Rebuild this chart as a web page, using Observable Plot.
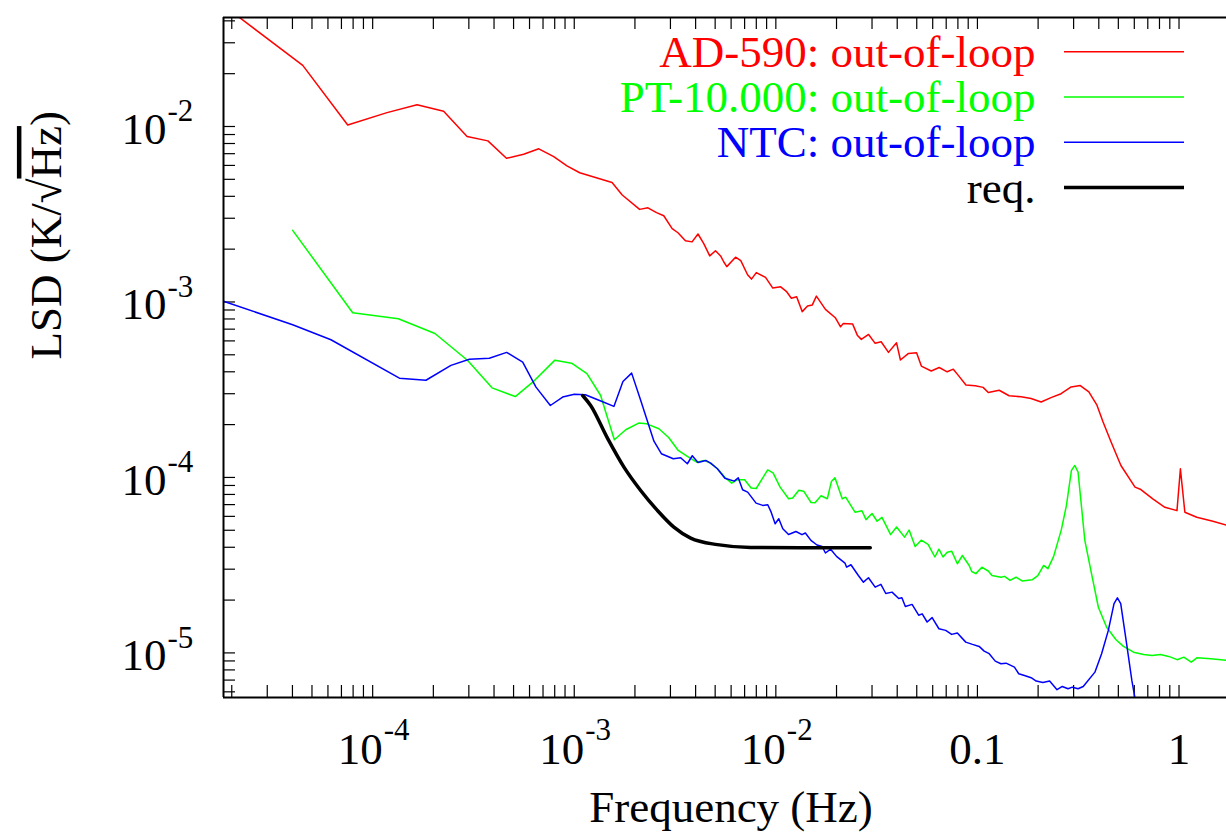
<!DOCTYPE html>
<html><head><meta charset="utf-8">
<script src="https://cdn.jsdelivr.net/npm/d3@7"></script>
<script src="https://cdn.jsdelivr.net/npm/@observablehq/plot@0.6"></script>
<style>
body{margin:0;background:#fff;}
#chart svg{display:block;}
</style></head><body><div id="chart"></div>
<script>
// ---- data: [frequency (Hz), LSD (K/sqrt(Hz))] ----
const redData = [[1.82e-5,0.049],[4.5e-5,0.0223],[7.52e-5,0.0102],[1.178e-4,0.0120],[1.66e-4,0.0133],[2.25e-4,0.0122],[2.94e-4,0.00877],[3.73e-4,0.00828],[4.61e-4,0.00659],[5.61e-4,0.00695],[6.67e-4,0.00746],[7.91e-4,0.00674],[9.2e-4,0.00596],[1.064e-3,0.00545],[1.54e-3,0.00479],[1.73e-3,0.00407],[2.11e-3,0.00337],[2.32e-3,0.00344],[2.56e-3,0.00323],[2.78e-3,0.0031],[3.06e-3,0.00262],[3.27e-3,0.00248],[3.56e-3,0.00223],[3.84e-3,0.0022],[4.11e-3,0.00244],[4.39e-3,0.00215],[4.7e-3,0.00183],[5.02e-3,0.00196],[5.32e-3,0.00183],[5.52e-3,0.00169],[5.71e-3,1.59e-3],[6.31e-3,1.80e-3],[6.70e-3,1.72e-3],[7.24e-3,1.43e-3],[7.57e-3,1.35e-3],[8.0e-3,1.47e-3],[8.89e-3,1.38e-3],[9.66e-3,1.20e-3],[1.057e-2,1.22e-3],[1.127e-2,1.15e-3],[1.194e-2,1.05e-3],[1.268e-2,1.07e-3],[1.352e-2,8.81e-4],[1.436e-2,9.49e-4],[1.517e-2,9.62e-4],[1.589e-2,1.08e-3],[1.762e-2,9.08e-4],[1.972e-2,8.13e-4],[2.094e-2,7.22e-4],[2.163e-2,7.55e-4],[2.405e-2,7.48e-4],[2.535e-2,6.47e-4],[2.655e-2,6.12e-4],[2.884e-2,6.53e-4],[3.11e-2,5.81e-4],[3.33e-2,5.93e-4],[3.62e-2,5.16e-4],[3.97e-2,5.85e-4],[4.15e-2,4.67e-4],[4.55e-2,5.09e-4],[4.99e-2,5.13e-4],[5.27e-2,4.31e-4],[5.90e-2,4.04e-4],[6.46e-2,4.23e-4],[7.08e-2,4.0e-4],[7.59e-2,4.14e-4],[8.02e-2,3.83e-4],[8.77e-2,3.36e-4],[9.75e-2,3.33e-4],[0.1067,3.26e-4],[0.1132,3.05e-4],[0.1282,3.14e-4],[0.1436,2.92e-4],[0.1648,2.88e-4],[0.1845,2.82e-4],[0.207,2.69e-4],[0.2317,2.85e-4],[0.26,3.0e-4],[0.2917,3.28e-4],[0.3236,3.34e-4],[0.357,3.07e-4],[0.3917,2.58e-4],[0.42,2.07e-4],[0.4603,1.59e-4],[0.515,1.17e-4],[0.605,8.81e-5],[0.647,8.53e-5],[0.741,7.55e-5],[0.851,6.76e-5],[0.977,6.47e-5],[1.016,1.12e-4],[1.069,6.33e-5],[1.225,5.93e-5],[1.472,5.62e-5],[1.75,5.32e-5]];

const greenData = [[4.01e-5,2.56e-3],[7.96e-5,8.68e-4],[1.341e-4,8.02e-4],[2.037e-4,6.61e-4],[2.96e-4,4.64e-4],[3.91e-4,3.24e-4],[5.10e-4,2.89e-4],[6.22e-4,3.49e-4],[8.02e-4,4.66e-4],[9.7e-4,4.48e-4],[1.156e-3,3.91e-4],[1.352e-3,2.93e-4],[1.432e-3,2.36e-4],[1.581e-3,1.64e-4],[1.80e-3,1.87e-4],[2.087e-3,2.04e-4],[2.287e-3,2.02e-4],[2.63e-3,1.894e-4],[2.94e-3,1.69e-4],[3.28e-3,1.425e-4],[3.64e-3,1.317e-4],[4.05e-3,1.222e-4],[4.42e-3,1.25e-4],[4.75e-3,1.202e-4],[5.13e-3,1.121e-4],[5.64e-3,9.9e-5],[6.04e-3,9.28e-5],[6.44e-3,9.70e-5],[7.0e-3,9.70e-5],[7.54e-3,8.71e-5],[7.99e-3,8.65e-5],[9.11e-3,1.103e-4],[9.69e-3,1.061e-4],[1.05e-2,8.80e-5],[1.157e-2,7.56e-5],[1.212e-2,7.64e-5],[1.30e-2,8.46e-5],[1.374e-2,8.35e-5],[1.495e-2,7.20e-5],[1.564e-2,7.18e-5],[1.676e-2,7.86e-5],[1.80e-2,7.56e-5],[1.887e-2,9.49e-5],[1.964e-2,9.96e-5],[2.135e-2,7.56e-5],[2.22e-2,7.72e-5],[2.47e-2,6.34e-5],[2.674e-2,6.46e-5],[2.80e-2,5.75e-5],[3.0e-2,6.23e-5],[3.18e-2,5.63e-5],[3.36e-2,5.92e-5],[3.71e-2,4.72e-5],[3.97e-2,5.22e-5],[4.35e-2,4.57e-5],[4.58e-2,5.01e-5],[4.91e-2,4.04e-5],[5.26e-2,4.39e-5],[5.69e-2,4.15e-5],[6.15e-2,3.52e-5],[6.44e-2,3.90e-5],[6.75e-2,3.52e-5],[7.08e-2,3.75e-5],[7.45e-2,3.80e-5],[7.95e-2,3.22e-5],[8.42e-2,3.59e-5],[9.10e-2,3.15e-5],[9.37e-2,2.91e-5],[9.82e-2,2.83e-5],[0.1052,3.08e-5],[0.1135,2.92e-5],[0.118,2.76e-5],[0.1308,2.70e-5],[0.1364,2.73e-5],[0.1451,2.59e-5],[0.1554,2.70e-5],[0.1666,2.57e-5],[0.1867,2.61e-5],[0.1993,2.76e-5],[0.213,3.15e-5],[0.2237,3.02e-5],[0.2388,3.55e-5],[0.2608,5.04e-5],[0.2764,6.93e-5],[0.2926,1.096e-4],[0.3042,1.17e-4],[0.3157,1.072e-4],[0.341,4.38e-5],[0.368,2.83e-5],[0.398,1.82e-5],[0.4375,1.40e-5],[0.487,1.189e-5],[0.530,1.089e-5],[0.595,1.01e-5],[0.6674,9.8e-6],[0.734,9.68e-6],[0.808,9.8e-6],[0.889,9.55e-6],[0.979,9.15e-6],[1.056,9.46e-6],[1.150,8.86e-6],[1.231,9.39e-6],[1.436,9.27e-6],[1.722,9.06e-6]];

const blueData = [[1.82e-5,1.01e-3],[4.01e-5,7.41e-4],[6.21e-5,6.09e-4],[1.357e-4,3.68e-4],[1.838e-4,3.58e-4],[2.445e-4,4.35e-4],[3.018e-4,4.72e-4],[3.79e-4,4.78e-4],[4.62e-4,5.16e-4],[5.55e-4,4.54e-4],[6.46e-4,3.27e-4],[7.61e-4,2.57e-4],[8.76e-4,2.87e-4],[1.001e-3,2.98e-4],[1.135e-3,2.96e-4],[1.383e-3,2.70e-4],[1.573e-3,2.54e-4],[1.744e-3,3.52e-4],[1.926e-3,3.93e-4],[2.135e-3,2.75e-4],[2.485e-3,1.61e-4],[2.704e-3,1.365e-4],[3.10e-3,1.278e-4],[3.372e-3,1.295e-4],[3.64e-3,1.197e-4],[3.85e-3,1.329e-4],[4.11e-3,1.218e-4],[4.49e-3,1.25e-4],[4.75e-3,1.206e-4],[5.13e-3,1.121e-4],[5.59e-3,9.9e-5],[6.22e-3,9.53e-5],[6.51e-3,9.96e-5],[6.84e-3,8.51e-5],[7.25e-3,8.25e-5],[7.98e-3,7.14e-5],[8.61e-3,6.93e-5],[9.12e-3,6.99e-5],[9.48e-3,6.34e-5],[9.92e-3,5.45e-5],[1.034e-2,5.82e-5],[1.083e-2,5.10e-5],[1.156e-2,4.73e-5],[1.258e-2,4.92e-5],[1.348e-2,4.72e-5],[1.401e-2,4.82e-5],[1.493e-2,4.38e-5],[1.60e-2,4.12e-5],[1.697e-2,4.04e-5],[1.762e-2,3.71e-5],[1.87e-2,3.90e-5],[2.0e-2,3.55e-5],[2.202e-2,3.25e-5],[2.245e-2,3.08e-5],[2.358e-2,3.18e-5],[2.567e-2,2.76e-5],[2.72e-2,2.53e-5],[2.88e-2,2.68e-5],[3.11e-2,2.37e-5],[3.32e-2,2.46e-5],[3.51e-2,2.18e-5],[3.77e-2,2.22e-5],[4.07e-2,2.04e-5],[4.22e-2,2.06e-5],[4.39e-2,1.84e-5],[4.74e-2,1.89e-5],[5.11e-2,1.64e-5],[5.32e-2,1.67e-5],[5.63e-2,1.50e-5],[5.96e-2,1.59e-5],[6.44e-2,1.373e-5],[6.96e-2,1.344e-5],[7.45e-2,1.275e-5],[7.95e-2,1.297e-5],[8.75e-2,1.152e-5],[9.45e-2,1.118e-5],[0.102,1.089e-5],[0.108,1.024e-5],[0.1144,9.9e-6],[0.1226,8.98e-6],[0.1308,8.68e-6],[0.1387,8.74e-6],[0.1526,8.30e-6],[0.1603,7.61e-6],[0.1711,7.44e-6],[0.1847,7.22e-6],[0.1957,6.91e-6],[0.2113,6.79e-6],[0.2281,6.91e-6],[0.2482,6.17e-6],[0.2637,6.44e-6],[0.2814,6.25e-6],[0.2959,6.38e-6],[0.3157,6.25e-6],[0.3348,6.44e-6],[0.3826,7.77e-6],[0.413,9.9e-6],[0.446,1.344e-5],[0.476,1.907e-5],[0.4947,2.06e-5],[0.5138,1.907e-5],[0.5465,1.178e-5],[0.5834,6.97e-6],[0.645,3.62e-6]];

const reqData = [[1.101e-3,2.93e-4],[1.206e-3,2.57e-4],[1.459e-3,1.68e-4],[1.764e-3,1.145e-4],[2.135e-3,8.43e-5],[2.584e-3,6.49e-5],[3.12e-3,5.21e-5],[3.78e-3,4.51e-5],[5.13e-3,4.14e-5],[7.5e-3,3.99e-5],[1.327e-2,3.98e-5],[2.94e-2,3.98e-5]];

// ---- axes / labels ----
const xDomain = [1.82e-5, 1.72];
const yDomain = [5.57e-6, 0.0418];
const xMajorTicks = [1e-4, 1e-3, 1e-2, 0.1, 1];
const xTickBase = ["10", "10", "10", "0.1", "1"];
const xTickExp = ["-4", "-3", "-2", "", ""];
const yMajorTicks = [1e-2, 1e-3, 1e-4, 1e-5];
const yTickBase = ["10", "10", "10", "10"];
const yTickExp = ["-2", "-3", "-4", "-5"];
const seriesNames = ["AD-590: out-of-loop", "PT-10.000: out-of-loop", "NTC: out-of-loop", "req."];
const seriesColors = ["#ff0000", "#00ff00", "#0000ff", "#000000"];
const seriesWidths = [1.5, 1.5, 1.5, 3.5];
const xTitle = "Frequency (Hz)";
const yTitle = "LSD (K/√Hz)";

// ---- layout ----
const W = 1226, H = 835, mL = 223, mT = 17, mB = 138, mR = 0;
const frameW = W - mL - mR, frameH = H - mT - mB;
const TICK = 12;
const FONT = "Liberation Serif";

const minorX = d3.scaleLog().domain(xDomain).ticks();
const minorY = d3.scaleLog().domain(yDomain).ticks();
const xTickTable = xMajorTicks.map((v, i) => ({v, base: xTickBase[i], exp: xTickExp[i]}));
const yTickTable = yMajorTicks.map((v, i) => ({v, base: yTickBase[i], exp: yTickExp[i]}));

const fx = d => d[0], fy = d => d[1];

const legendMarks = seriesNames.map((name, i) =>
  Plot.text([name], {frameAnchor: "top-right", lineAnchor: "middle", dx: -(W - 1035), dy: 34.7 + i * 45.3,
    textAnchor: "end", fill: seriesColors[i], fontSize: 45, fontFamily: FONT}));

const chart = Plot.plot({
  width: W, height: H,
  marginLeft: mL, marginTop: mT, marginBottom: mB, marginRight: mR,
  style: {fontFamily: FONT, background: "#fff", overflow: "visible"},
  x: {type: "log", domain: xDomain, axis: null},
  y: {type: "log", domain: yDomain, axis: null},
  marks: [
    // inward ticks
    Plot.ruleX(minorX, {x: d => d, insetTop: frameH - TICK, stroke: "#000", strokeWidth: 1.2}),
    Plot.ruleX(minorX, {x: d => d, insetBottom: frameH - TICK, stroke: "#000", strokeWidth: 1.2}),
    Plot.ruleY(minorY, {y: d => d, insetRight: frameW - TICK, stroke: "#000", strokeWidth: 1.2}),
    // data
    Plot.line(redData, {x: fx, y: fy, stroke: seriesColors[0], strokeWidth: seriesWidths[0], clip: true}),
    Plot.line(greenData, {x: fx, y: fy, stroke: seriesColors[1], strokeWidth: seriesWidths[1], clip: true}),
    Plot.line(blueData, {x: fx, y: fy, stroke: seriesColors[2], strokeWidth: seriesWidths[2], clip: true}),
    Plot.line(reqData, {x: fx, y: fy, stroke: seriesColors[3], strokeWidth: seriesWidths[3], curve: "monotone-x", clip: true}),
    // border (top, left, bottom)
    Plot.ruleY([yDomain[1]], {stroke: "#000", strokeWidth: 2}),
    Plot.ruleY([yDomain[0]], {stroke: "#000", strokeWidth: 2}),
    Plot.ruleX([xDomain[0]], {stroke: "#000", strokeWidth: 2}),
    // x tick labels
    Plot.text(xTickTable.filter(d => d.exp), {x: "v", text: "base", frameAnchor: "bottom", lineAnchor: "middle", dy: 52, dx: 10, textAnchor: "end", fontSize: 45, fill: "#000"}),
    Plot.text(xTickTable.filter(d => d.exp), {x: "v", text: "exp", frameAnchor: "bottom", lineAnchor: "middle", dy: 33, dx: 11, textAnchor: "start", fontSize: 31, fill: "#000"}),
    Plot.text(xTickTable.filter(d => !d.exp), {x: "v", text: "base", frameAnchor: "bottom", lineAnchor: "middle", dy: 52, textAnchor: "middle", fontSize: 45, fill: "#000"}),
    // y tick labels
    Plot.text(yTickTable, {y: "v", text: "base", frameAnchor: "left", lineAnchor: "middle", dx: -57, dy: 3, textAnchor: "end", fontSize: 45, fill: "#000"}),
    Plot.text(yTickTable, {y: "v", text: "exp", frameAnchor: "left", lineAnchor: "middle", dx: -56, dy: -15, textAnchor: "start", fontSize: 31, fill: "#000"}),
    // axis titles
    Plot.text([xTitle], {frameAnchor: "bottom", lineAnchor: "middle", dx: 6, dy: 110, fontSize: 45, fill: "#000"}),
    Plot.text([yTitle], {frameAnchor: "left", lineAnchor: "middle", rotate: -90, dx: -177, dy: 2, fontSize: 45, fill: "#000"}),
    // legend labels
    ...legendMarks
  ]
});

document.getElementById("chart").appendChild(chart);

// legend swatches and overline for sqrt(Hz)
const svg = d3.select(chart);
seriesNames.forEach((name, i) => {
  const yy = mT + 34.7 + i * 45.3;
  svg.append("line").attr("x1", 1064).attr("x2", 1184).attr("y1", yy).attr("y2", yy)
    .attr("stroke", seriesColors[i]).attr("stroke-width", seriesWidths[i]);
});
svg.selectAll("text").each(function() {
  if (this.textContent === yTitle) {
    const t = d3.select(this);
    t.text("");
    t.append("tspan").text("LSD (K/√");
    t.append("tspan").text("Hz").style("text-decoration", "overline");
    t.append("tspan").text(")");
  }
});
</script>
</body></html>
